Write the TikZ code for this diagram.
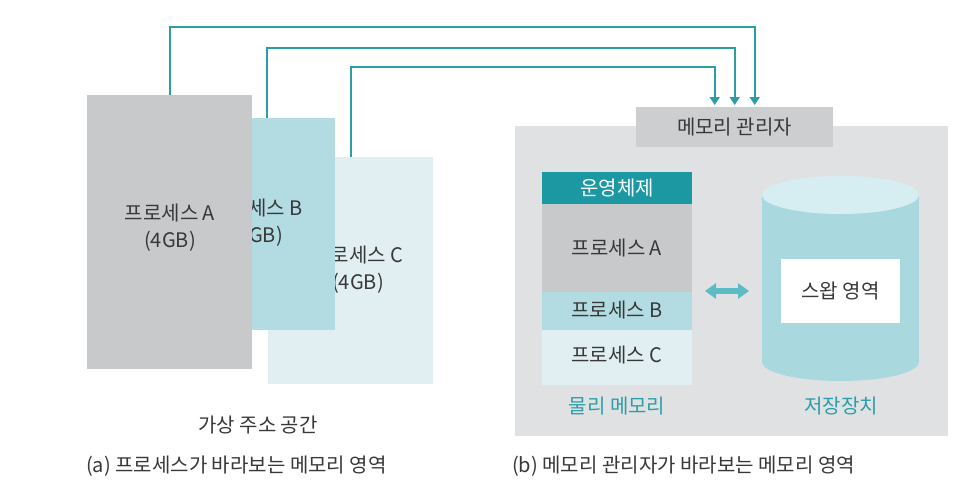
\documentclass[tikz,border=0pt]{standalone}
\usepackage{fontspec}
\setmainfont{Noto Sans CJK KR}
\usetikzlibrary{arrows.meta,calc}
\definecolor{teal1}{HTML}{2E9CA5}
\definecolor{tealdark}{HTML}{1C98A3}
\definecolor{txt}{HTML}{383838}
\definecolor{grayA}{HTML}{C8C9CB}
\definecolor{tealB}{HTML}{B2DCE2}
\definecolor{paleC}{HTML}{E1EFF2}
\definecolor{panel}{HTML}{E0E1E3}
\definecolor{mgr}{HTML}{CDCED0}
\definecolor{cylbody}{HTML}{A9D9DF}
\definecolor{cyltop}{HTML}{D6EEF1}
\definecolor{dblc}{HTML}{5DBBC3}
\definecolor{labteal}{HTML}{2A9FA9}
\begin{document}
\begin{tikzpicture}[x=1pt,y=-1pt,
  box/.style={rectangle,draw=none,inner sep=0pt,anchor=north west},
  lbl/.style={text=txt,font=\fontsize{20}{27}\selectfont,align=center,inner sep=0pt},
  conn/.style={draw=teal1,line width=1.6pt,-{Triangle[width=10pt,length=8pt]}},
  dbl/.style={draw=dblc,line width=6pt,{Triangle[width=15pt,length=11pt]}-{Triangle[width=15pt,length=11pt]}}]
\useasboundingbox[fill=white] (0,0) rectangle (960,488);

% ---- left: virtual address spaces ----
\node[box,fill=paleC,minimum width=165pt,minimum height=227pt] (C) at (268,157) {};
\node[lbl] (Ct) at (358,270) {프로세스 C\\(4GB)};
\node[box,fill=tealB,minimum width=155pt,minimum height=212pt] (B) at (180,118) {};
\node[lbl] (Bt) at (257,223) {프로세스 B\\(4GB)};
\node[box,fill=grayA,minimum width=165pt,minimum height=274pt] (A) at (87,95) {};
\node[lbl] (At) at (170,228) {프로세스 A\\(4GB)};

\node[lbl] (vas) at (258,425) {가상 주소 공간};
\node[lbl,anchor=west] (capa) at (86,466) {(a) 프로세스가 바라보는 메모리 영역};

% ---- right: memory manager view ----
\node[box,fill=panel,minimum width=433pt,minimum height=310pt] (P) at (515,126) {};
\node[box,fill=mgr,minimum width=197pt,minimum height=40pt] (MM) at (636,107) {};
\node[lbl] (MMt) at (734.5,127) {메모리 관리자};

\node[box,fill=tealdark,minimum width=150pt,minimum height=32pt] (OS) at (542,172) {};
\node[lbl,text=white] (OSt) at (617,188) {운영체제};
\node[box,fill=grayA,minimum width=150pt,minimum height=88pt] (PA) at (542,204) {};
\node[lbl] (PAt) at (617,248) {프로세스 A};
\node[box,fill=tealB,minimum width=150pt,minimum height=38pt] (PB) at (542,292) {};
\node[lbl] (PBt) at (617,310) {프로세스 B};
\node[box,fill=paleC,minimum width=150pt,minimum height=55pt] (PC) at (542,330) {};
\node[lbl] (PCt) at (617,355) {프로세스 C};
\node[lbl,text=labteal] (phys) at (617,406) {물리 메모리};

% cylinder
\fill[cylbody] (762,195) rectangle (919,362);
\fill[cylbody] (840.5,362) ellipse [x radius=78.5pt, y radius=19pt];
\fill[cyltop] (840.5,195) ellipse [x radius=78.5pt, y radius=19pt];
\node[box,fill=white,minimum width=119pt,minimum height=64pt] (SW) at (781,259) {};
\node[lbl] (SWt) at (840.5,291) {스왑 영역};
\node[lbl,text=labteal] (stor) at (841,406) {저장장치};

\coordinate (d1) at (705,291);
\coordinate (d2) at (749,291);
\draw[dbl] (d1) -- (d2);

\node[lbl,anchor=west] (capb) at (512,466) {(b) 메모리 관리자가 바라보는 메모리 영역};

% ---- connectors ----
\draw[conn] (A.north) -- (A.north |- 0,27) -| ($(MM.north)+(20,-2)$);
\draw[conn] ($(B.north west)+(87,0)$) -- ($(B.north west)+(87,-70)$) -| ($(MM.north)+(0,-2)$);
\draw[conn] (C.north) -- (C.north |- 0,67) -| ($(MM.north)+(-20,-2)$);
\end{tikzpicture}
\end{document}
